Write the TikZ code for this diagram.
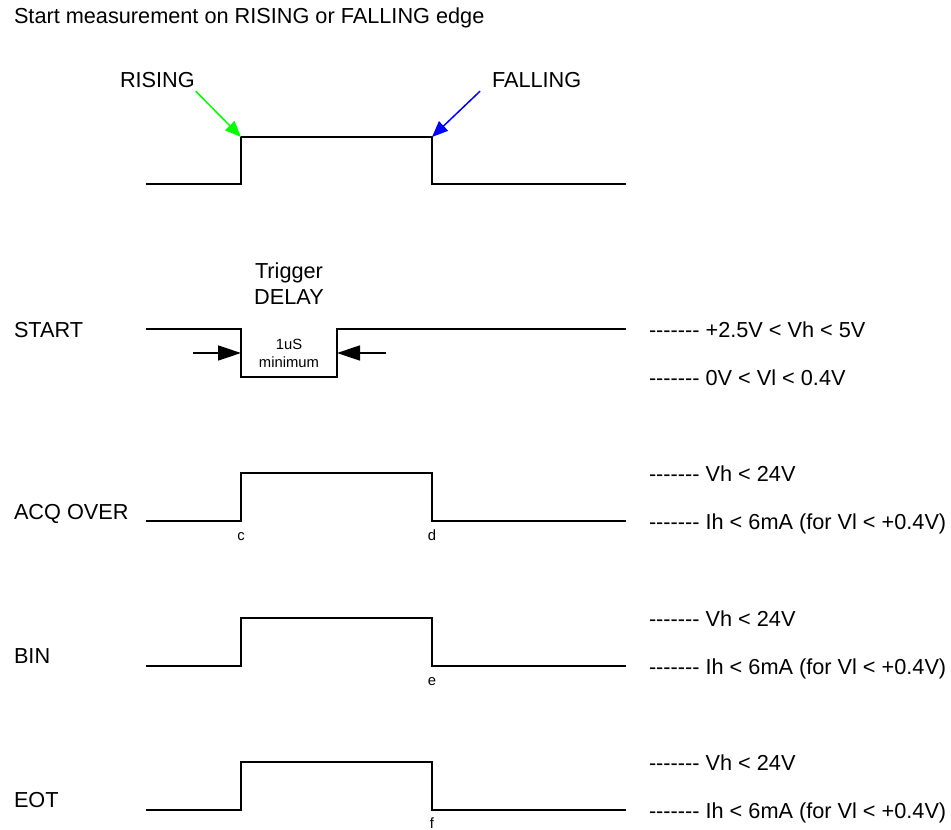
\documentclass[tikz,border=0pt]{standalone}
\usepackage{fontspec}
\setmainfont{Liberation Sans}
\usetikzlibrary{arrows.meta}
% guiones sueltos (sin ligaduras -- / ---)
\newcommand{\rayas}{-\kern0pt-\kern0pt-\kern0pt-\kern0pt-\kern0pt-\kern0pt-}

\begin{document}
\begin{tikzpicture}[x=1pt, y=-1pt, line width=2pt,
  txt/.style={font=\fontsize{21.7}{24}\selectfont, inner sep=0pt, anchor=base west},
  chico/.style={font=\fontsize{14.8}{16}\selectfont, inner sep=0pt, anchor=base},
  flanco/.style={line width=1.5pt, -{Triangle[length=16pt,width=13pt]}},
  retardo/.style={line width=1.5pt, -{Triangle[length=23pt,width=15pt]}}]
  % Marco
  \fill[white] (0,0) rectangle (951,830);
  \useasboundingbox (0,0) rectangle (951,830);
  % Titulo
  \node[txt] (titulo) at (13,23) {Start measurement on RISING or FALLING edge};
  % Pulso de ejemplo con sus flancos
  \draw (146,184) -- (241,184) -- (241,137) -- (432,137) -- (432,184) -- (626,184);
  \coordinate (sube) at (241,137);
  \coordinate (baja) at (432,137);
  \node[txt] (rising) at (119,87) {RISING};
  \node[txt] (falling) at (491,87) {FALLING};
  \draw[flanco, green] ([yshift=-3pt]rising.south east) -- (sube);
  \draw[flanco, blue] ([xshift=-11pt,yshift=-3pt]falling.south west) -- (baja);
  % START
  \node[txt] (start) at (13,337) {START};
  \draw (146,329) -- (241,329) -- (241,377) -- (337,377) -- (337,329) -- (626,329);
  \node[txt, anchor=base] (trigger) at (289,278) {Trigger};
  \node[txt, anchor=base] (delay) at (289,304) {DELAY};
  \node[chico] (uno) at (289,349) {1uS};
  \node[chico] (minimo) at (289,367) {minimum};
  \coordinate (izq) at (193,353);
  \coordinate (pulsoA) at (241,353);
  \coordinate (der) at (386,353);
  \coordinate (pulsoB) at (337,353);
  \draw[retardo] (izq) -- (pulsoA);
  \draw[retardo] (der) -- (pulsoB);
  \node[txt] (vhS) at (648,337) {\rayas{} +2.5V < Vh < 5V};
  \node[txt] (vlS) at (648,385) {\rayas{} 0V < Vl < 0.4V};
  % ACQ OVER
  \node[txt] (acq) at (13,519) {ACQ OVER};
  \draw (146,521) -- (241,521) -- (241,473) -- (432,473) -- (432,521) -- (626,521);
  \node[chico] (c) at (241,540) {c};
  \node[chico] (d) at (432,540) {d};
  \node[txt] (vhA) at (648,481) {\rayas{} Vh < 24V};
  \node[txt] (ihA) at (648,529) {\rayas{} Ih < 6mA (for Vl < +0.4V)};
  % BIN
  \node[txt] (bin) at (13,663) {BIN};
  \draw (146,666) -- (241,666) -- (241,618) -- (432,618) -- (432,666) -- (626,666);
  \node[chico] (e) at (432,685) {e};
  \node[txt] (vhB) at (648,626) {\rayas{} Vh < 24V};
  \node[txt] (ihB) at (648,674) {\rayas{} Ih < 6mA (for Vl < +0.4V)};
  % EOT
  \node[txt] (eot) at (13,807) {EOT};
  \draw (146,810) -- (241,810) -- (241,762) -- (432,762) -- (432,810) -- (626,810);
  \node[chico] (f) at (432,828) {f};
  \node[txt] (vhE) at (648,770) {\rayas{} Vh < 24V};
  \node[txt] (ihE) at (648,818) {\rayas{} Ih < 6mA (for Vl < +0.4V)};
\end{tikzpicture}
\end{document}
